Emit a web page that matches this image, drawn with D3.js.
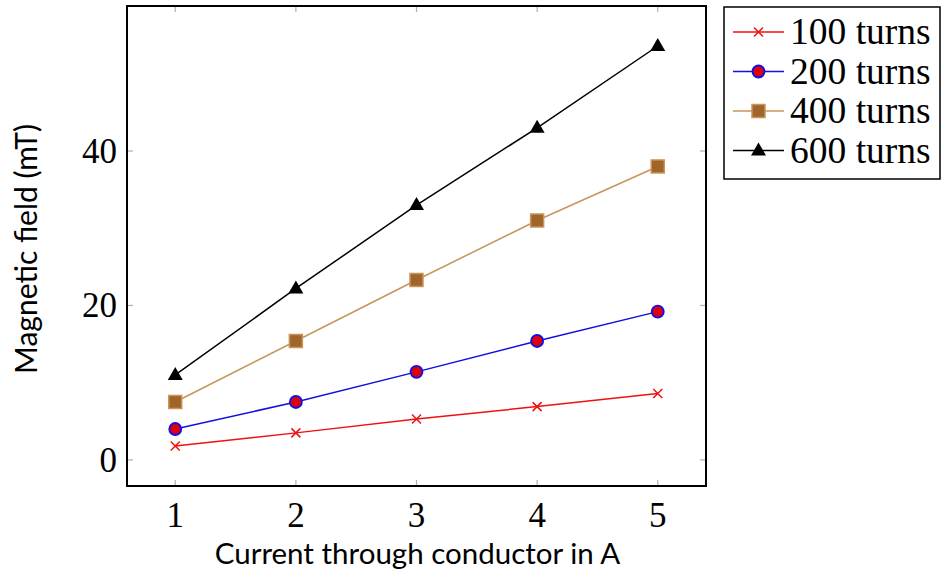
<!DOCTYPE html>
<html>
<head>
<meta charset="utf-8">
<script src="https://cdn.jsdelivr.net/npm/d3@7"></script>
<style>
  body { margin: 0; background: #fff; }
  svg { display: block; }
</style>
</head>
<body>
<div id="chart"></div>
<script>
const WIDTH = 942
const HEIGHT = 573

// données
const current = [1, 2, 3, 4, 5]
const turns100 = [1.8, 3.5, 5.3, 6.9, 8.6]
const turns200 = [4.0, 7.5, 11.4, 15.4, 19.2]
const turns400 = [7.5, 15.4, 23.3, 31.0, 38.0]
const turns600 = [11.0, 22.2, 33.0, 43.0, 53.6]
const seriesNames = ["100 turns", "200 turns", "400 turns", "600 turns"]
const xTicks = [1, 2, 3, 4, 5]
const yTicks = [0, 20, 40]

const series = [
    { name: seriesNames[0], values: turns100, color: "#ee1111", marker: "cross" },
    { name: seriesNames[1], values: turns200, color: "#1010e0", marker: "circle" },
    { name: seriesNames[2], values: turns400, color: "#c8955a", marker: "square" },
    { name: seriesNames[3], values: turns600, color: "#000000", marker: "triangle" }
]

const pLeft = 127, pRight = 706, pTop = 6, pBottom = 486

// enlarge limits 10% like pgfplots
const xExt = d3.extent(current)
const allY = series.flatMap(s => s.values)
const yExt = d3.extent(allY)
const xPad = (xExt[1] - xExt[0]) * 0.1
const yPad = (yExt[1] - yExt[0]) * 0.1

const x = d3.scaleLinear().domain([xExt[0] - xPad, xExt[1] + xPad]).range([pLeft, pRight])
const y = d3.scaleLinear().domain([yExt[0] - yPad, yExt[1] + yPad]).range([pBottom, pTop])

const svg = d3.select("#chart")
    .append("svg")
    .attr("width", WIDTH)
    .attr("height", HEIGHT)

const tickColor = "#b0b0b0"
const TL = 6

// ticks (inside, all four sides)
const ticks = svg.append("g").attr("class", "ticks")
xTicks.forEach(t => {
    ticks.append("line").attr("x1", x(t)).attr("x2", x(t)).attr("y1", pBottom).attr("y2", pBottom - TL)
        .attr("stroke", tickColor).attr("stroke-width", 1.2)
    ticks.append("line").attr("x1", x(t)).attr("x2", x(t)).attr("y1", pTop).attr("y2", pTop + TL)
        .attr("stroke", tickColor).attr("stroke-width", 1.2)
})
yTicks.forEach(t => {
    ticks.append("line").attr("x1", pLeft).attr("x2", pLeft + TL).attr("y1", y(t)).attr("y2", y(t))
        .attr("stroke", tickColor).attr("stroke-width", 1.2)
    ticks.append("line").attr("x1", pRight).attr("x2", pRight - TL).attr("y1", y(t)).attr("y2", y(t))
        .attr("stroke", tickColor).attr("stroke-width", 1.2)
})

// tick labels
const serif = "'Liberation Serif', 'DejaVu Serif', serif"
svg.append("g").selectAll("text")
    .data(xTicks)
    .enter()
    .append("text")
    .attr("x", d => x(d))
    .attr("y", 527)
    .attr("text-anchor", "middle")
    .attr("font-family", serif)
    .attr("font-size", 35)
    .text(d => d)

svg.append("g").selectAll("text")
    .data(yTicks)
    .enter()
    .append("text")
    .attr("x", 117)
    .attr("y", d => y(d) + 12)
    .attr("text-anchor", "end")
    .attr("font-family", serif)
    .attr("font-size", 35)
    .text(d => d)

// lines
const line = d3.line()
    .x((d, i) => x(current[i]))
    .y(d => y(d))

const plot = svg.append("g").attr("class", "series")

function drawMarker(g, type, cx, cy, color) {
    if (type === "cross") {
        const s = 4.5
        g.append("path")
            .attr("d", `M${cx - s},${cy - s}L${cx + s},${cy + s}M${cx - s},${cy + s}L${cx + s},${cy - s}`)
            .attr("stroke", color).attr("stroke-width", 1.5).attr("fill", "none")
    } else if (type === "circle") {
        g.append("circle").attr("cx", cx).attr("cy", cy).attr("r", 6)
            .attr("fill", "#dd0010").attr("stroke", color).attr("stroke-width", 1.8)
    } else if (type === "square") {
        g.append("rect").attr("x", cx - 6.5).attr("y", cy - 6.5).attr("width", 13).attr("height", 13)
            .attr("fill", "#a0652a").attr("stroke", color).attr("stroke-width", 1.5)
    } else if (type === "triangle") {
        g.append("path")
            .attr("d", `M${cx},${cy - 8}L${cx + 7.5},${cy + 5}L${cx - 7.5},${cy + 5}Z`)
            .attr("fill", "#000")
    }
}

series.forEach(s => {
    plot.append("path")
        .datum(s.values)
        .attr("d", line)
        .attr("fill", "none")
        .attr("stroke", s.color)
        .attr("stroke-width", 1.5)
    s.values.forEach((v, i) => drawMarker(plot, s.marker, x(current[i]), y(v), s.color))
})

// frame
svg.append("rect")
    .attr("x", pLeft).attr("y", pTop)
    .attr("width", pRight - pLeft).attr("height", pBottom - pTop)
    .attr("fill", "none").attr("stroke", "#000").attr("stroke-width", 2)

// axis titles
const sans = "Lato, 'Open Sans', sans-serif"
svg.append("text")
    .attr("x", (pLeft + pRight) / 2 + 1)
    .attr("y", 564)
    .attr("text-anchor", "middle")
    .attr("font-family", sans)
    .attr("font-size", 29.5)
    .text("Current through conductor in A")

svg.append("text")
    .attr("transform", `translate(37, ${(pTop + pBottom) / 2 + 3}) rotate(-90)`)
    .attr("text-anchor", "middle")
    .attr("font-family", sans)
    .attr("font-size", 30)
    .text("Magnetic field (mT)")

// legend
const legend = svg.append("g").attr("class", "legend")
legend.append("rect")
    .attr("x", 724).attr("y", 7).attr("width", 216).attr("height", 172)
    .attr("fill", "#fff").attr("stroke", "#000").attr("stroke-width", 1.5)

series.forEach((s, i) => {
    const ly = 32 + i * 39.5
    legend.append("line")
        .attr("x1", 733).attr("x2", 784).attr("y1", ly).attr("y2", ly)
        .attr("stroke", s.color).attr("stroke-width", 1.5)
    drawMarker(legend, s.marker, 758.5, ly, s.color)
    legend.append("text")
        .attr("x", 790)
        .attr("y", ly + 12)
        .attr("font-family", serif)
        .attr("font-size", 37.5)
        .text(s.name)
})
</script>
</body>
</html>
